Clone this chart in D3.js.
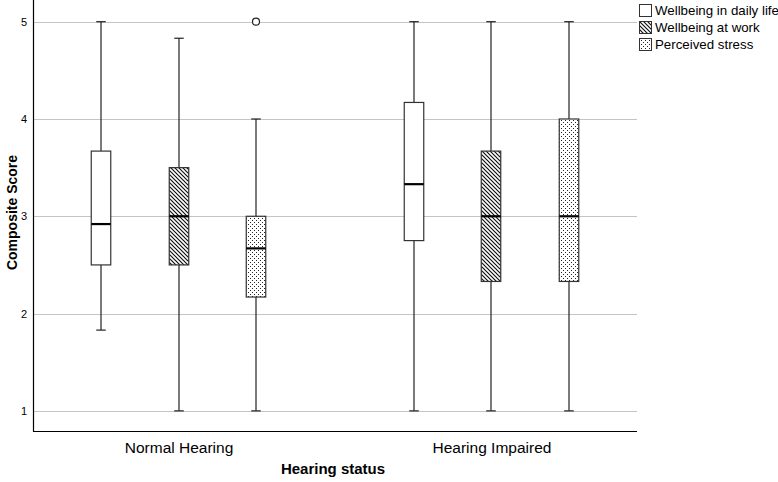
<!DOCTYPE html>
<html>
<head>
<meta charset="utf-8">
<script src="https://cdn.jsdelivr.net/npm/d3@7"></script>
<style>
  body { margin: 0; background: #fff; }
  svg { display: block; }
  text { font-family: "Liberation Sans", Arial, sans-serif; fill: #000; }
</style>
</head>
<body>
<svg id="chart" width="778" height="482"></svg>
<script>
// ---- Data ----
const groups = ["Normal Hearing", "Hearing Impaired"];
const series = ["Wellbeing in daily life", "Wellbeing at work", "Perceived stress"];
// [group][series]
const whiskerLow  = [[1.83, 1.00, 1.00], [1.00, 1.00, 1.00]];
const q1          = [[2.50, 2.50, 2.17], [2.75, 2.33, 2.33]];
const median      = [[2.92, 3.00, 2.67], [3.33, 3.00, 3.00]];
const q3          = [[3.67, 3.50, 3.00], [4.17, 3.67, 4.00]];
const whiskerHigh = [[5.00, 4.83, 4.00], [5.00, 5.00, 5.00]];
const outliers = [{ group: "Normal Hearing", series: "Perceived stress", value: 5.00 }];
const yTicks = [1, 2, 3, 4, 5];
const patterns = ["none", "hatch", "dots"];

(function () {
// ---- Layout ----
const svg = d3.select("#chart");
const pLeft = 33, pRight = 637, pTop = 0, pBottom = 431;

const defs = svg.append("defs");
// diagonal "\" hatch, period 4px
const hatch = defs.append("pattern")
  .attr("id", "hatch").attr("patternUnits", "userSpaceOnUse")
  .attr("width", 4).attr("height", 4);
hatch.append("rect").attr("width", 4).attr("height", 4).attr("fill", "#fff");
hatch.append("path").attr("d", "M-1,-1L5,5M-1,3L1,5M3,-1L5,1")
  .attr("stroke", "#111").attr("stroke-width", 1.2).attr("fill", "none");

const dots = defs.append("pattern")
  .attr("id", "dots").attr("patternUnits", "userSpaceOnUse")
  .attr("width", 4).attr("height", 4);
dots.append("rect").attr("width", 4).attr("height", 4).attr("fill", "#fff");
dots.append("rect").attr("x", 0).attr("y", 0).attr("width", 1).attr("height", 1).attr("fill", "#222");
dots.append("rect").attr("x", 2).attr("y", 2).attr("width", 1).attr("height", 1).attr("fill", "#222");

const fillFor = p => p === "hatch" ? "url(#hatch)" : p === "dots" ? "url(#dots)" : "#fff";

const y = d3.scaleLinear().domain([0.793, 5.223]).range([pBottom, pTop]);
const x = d3.scalePoint().domain(groups).range([pLeft, pRight]).padding(0.465);
const xs = d3.scalePoint().domain(series).range([-77.3, 77.3]);
const boxW = 19.5, capW = 9.5;

// gridlines
svg.append("g").selectAll("line").data(yTicks).join("line")
  .attr("x1", pLeft).attr("x2", pRight)
  .attr("y1", d => Math.round(y(d)) + 0.5).attr("y2", d => Math.round(y(d)) + 0.5)
  .attr("stroke", "#c4c4c4").attr("stroke-width", 1);

// y axis
const yAxis = svg.append("g").attr("transform", `translate(${pLeft},0)`)
  .call(d3.axisLeft(y).tickValues(yTicks).tickSize(0).tickPadding(6).tickFormat(d3.format("d")));
yAxis.select(".domain").remove();
yAxis.selectAll("text").style("font-size", "11px").style("font-family", '"Liberation Sans", Arial, sans-serif').attr("fill", "#000");

// x axis
const xAxis = svg.append("g").attr("transform", `translate(0,${pBottom})`)
  .call(d3.axisBottom(x).tickSize(0).tickPadding(11));
xAxis.select(".domain").remove();
xAxis.selectAll("text").style("font-size", "15.5px").style("font-family", '"Liberation Sans", Arial, sans-serif').attr("fill", "#000");

// axis lines
svg.append("line").attr("x1", pLeft + 0.5).attr("x2", pLeft + 0.5).attr("y1", pTop).attr("y2", pBottom + 0.5)
  .attr("stroke", "#000").attr("stroke-width", 1.2);
svg.append("line").attr("x1", pLeft).attr("x2", pRight).attr("y1", pBottom + 0.5).attr("y2", pBottom + 0.5)
  .attr("stroke", "#000").attr("stroke-width", 1.2);

// boxes
const boxes = [];
groups.forEach((g, gi) => series.forEach((s, si) => boxes.push({
  g, s, si, lo: whiskerLow[gi][si], q1: q1[gi][si], med: median[gi][si], q3: q3[gi][si], hi: whiskerHigh[gi][si]
})));

const bg = svg.append("g").selectAll("g").data(boxes).join("g")
  .attr("transform", d => `translate(${Math.round(x(d.g) + xs(d.s))},0)`);

bg.append("line").attr("x1", 0).attr("x2", 0)
  .attr("y1", d => y(d.hi)).attr("y2", d => y(d.q3))
  .attr("stroke", "#222").attr("stroke-width", 1.2);
bg.append("line").attr("x1", 0).attr("x2", 0)
  .attr("y1", d => y(d.q1)).attr("y2", d => y(d.lo))
  .attr("stroke", "#222").attr("stroke-width", 1.2);
bg.append("line").attr("x1", -capW / 2).attr("x2", capW / 2)
  .attr("y1", d => y(d.hi)).attr("y2", d => y(d.hi))
  .attr("stroke", "#222").attr("stroke-width", 1.2);
bg.append("line").attr("x1", -capW / 2).attr("x2", capW / 2)
  .attr("y1", d => y(d.lo)).attr("y2", d => y(d.lo))
  .attr("stroke", "#222").attr("stroke-width", 1.2);
bg.append("rect")
  .attr("x", -boxW / 2).attr("width", boxW)
  .attr("y", d => y(d.q3)).attr("height", d => y(d.q1) - y(d.q3))
  .attr("fill", d => fillFor(patterns[d.si]))
  .attr("stroke", "#333").attr("stroke-width", 1.2);
bg.append("line").attr("x1", -boxW / 2).attr("x2", boxW / 2)
  .attr("y1", d => y(d.med)).attr("y2", d => y(d.med))
  .attr("stroke", "#000").attr("stroke-width", 2.2);

// outliers
svg.append("g").selectAll("circle").data(outliers).join("circle")
  .attr("cx", d => Math.round(x(d.group) + xs(d.series))).attr("cy", d => y(d.value))
  .attr("r", 3.5).attr("fill", "#fff").attr("stroke", "#222").attr("stroke-width", 1.2);

// axis titles
svg.append("text").attr("transform", `translate(17,${(pTop + pBottom) / 2 - 3}) rotate(-90)`)
  .attr("text-anchor", "middle").style("font-size", "14px").style("font-weight", "bold")
  .text("Composite Score");
svg.append("text").attr("x", (pLeft + pRight) / 2 - 2).attr("y", 474)
  .attr("text-anchor", "middle").style("font-size", "15px").style("font-weight", "bold")
  .text("Hearing status");

// legend
const lg = svg.append("g").selectAll("g").data(series).join("g")
  .attr("transform", (d, i) => `translate(639,${4 + i * 17})`);
lg.append("rect").attr("x", 0.5).attr("y", 0.5).attr("width", 12).attr("height", 12)
  .attr("fill", (d, i) => fillFor(patterns[i])).attr("stroke", "#333").attr("stroke-width", 1);
lg.append("text").attr("x", 16).attr("y", 11).style("font-size", "13.3px").text(d => d);
})();
</script>
</body>
</html>
